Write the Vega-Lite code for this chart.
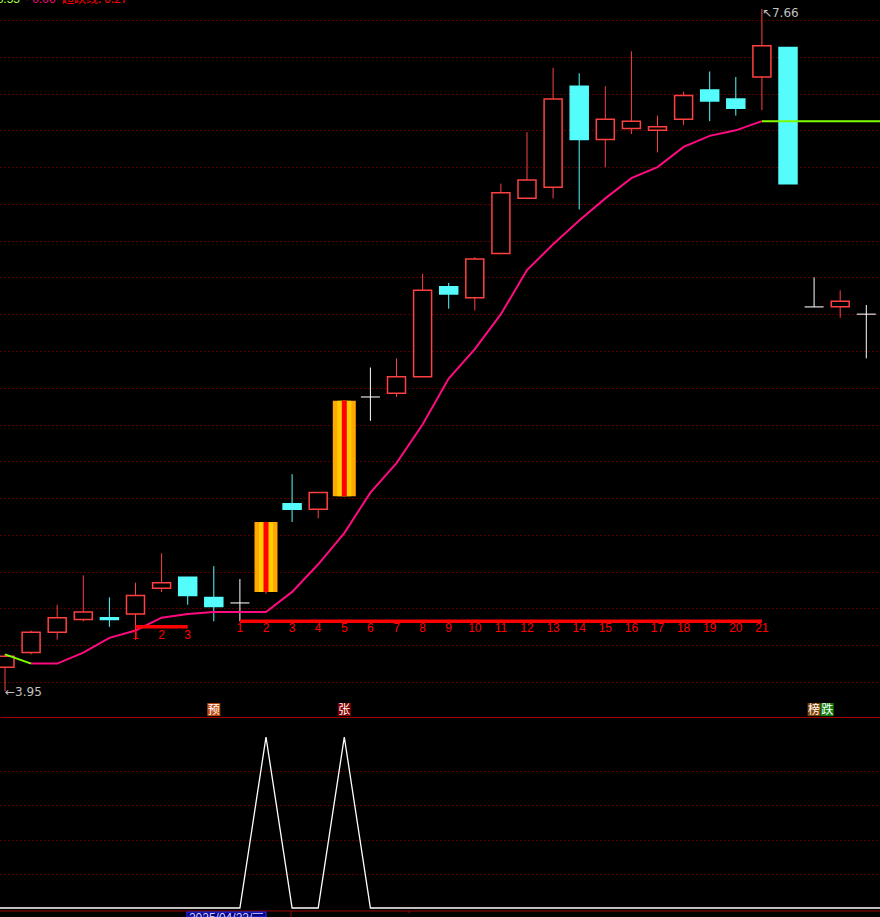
{
"$schema":"https://vega.github.io/schema/vega-lite/v6.json",
"background":"#000000",
"padding":0,
"bounds":"flush",
"spacing":0,
"config":{"view":{"stroke":null},"text":{"font":"Liberation Sans"},
 "axisY":{"grid":true,"gridColor":"#B00000","gridOpacity":1,"gridDash":[1,3],"gridWidth":1,"domain":false,"ticks":false,"labels":false,"title":null}},
"datasets":{
"candles":[
{"i":0,"o":4.08,"c":4.14,"h":4.15,"l":3.95,"d":"up"},
{"i":1,"o":4.16,"c":4.27,"h":4.28,"l":4.15,"d":"up"},
{"i":2,"o":4.27,"c":4.35,"h":4.42,"l":4.23,"d":"up"},
{"i":3,"o":4.34,"c":4.38,"h":4.58,"l":4.33,"d":"up"},
{"i":4,"o":4.35,"c":4.34,"h":4.46,"l":4.30,"d":"down"},
{"i":5,"o":4.37,"c":4.47,"h":4.54,"l":4.23,"d":"up"},
{"i":6,"o":4.51,"c":4.54,"h":4.70,"l":4.49,"d":"up"},
{"i":7,"o":4.57,"c":4.47,"h":4.57,"l":4.42,"d":"down"},
{"i":8,"o":4.46,"c":4.41,"h":4.63,"l":4.33,"d":"down"},
{"i":9,"o":4.43,"c":4.43,"h":4.56,"l":4.33,"d":"flat"},
{"i":10,"o":4.49,"c":4.87,"h":4.87,"l":4.48,"d":"limit"},
{"i":11,"o":4.97,"c":4.94,"h":5.13,"l":4.87,"d":"down"},
{"i":12,"o":4.94,"c":5.03,"h":5.03,"l":4.89,"d":"up"},
{"i":13,"o":5.01,"c":5.53,"h":5.53,"l":5.01,"d":"limit"},
{"i":14,"o":5.55,"c":5.55,"h":5.71,"l":5.42,"d":"flat"},
{"i":15,"o":5.57,"c":5.66,"h":5.76,"l":5.55,"d":"up"},
{"i":16,"o":5.66,"c":6.13,"h":6.22,"l":5.66,"d":"up"},
{"i":17,"o":6.15,"c":6.11,"h":6.17,"l":6.03,"d":"down"},
{"i":18,"o":6.09,"c":6.30,"h":6.31,"l":6.02,"d":"up"},
{"i":19,"o":6.33,"c":6.66,"h":6.71,"l":6.33,"d":"up"},
{"i":20,"o":6.63,"c":6.73,"h":6.99,"l":6.63,"d":"up"},
{"i":21,"o":6.69,"c":7.17,"h":7.34,"l":6.63,"d":"up"},
{"i":22,"o":7.24,"c":6.95,"h":7.31,"l":6.57,"d":"down"},
{"i":23,"o":6.95,"c":7.06,"h":7.24,"l":6.80,"d":"up"},
{"i":24,"o":7.01,"c":7.05,"h":7.43,"l":6.98,"d":"up"},
{"i":25,"o":7.00,"c":7.02,"h":7.08,"l":6.88,"d":"up"},
{"i":26,"o":7.06,"c":7.19,"h":7.21,"l":7.03,"d":"up"},
{"i":27,"o":7.22,"c":7.16,"h":7.32,"l":7.05,"d":"down"},
{"i":28,"o":7.17,"c":7.12,"h":7.29,"l":7.08,"d":"down"},
{"i":29,"o":7.29,"c":7.46,"h":7.66,"l":7.11,"d":"up"},
{"i":30,"o":7.45,"c":6.71,"h":7.45,"l":6.71,"d":"down"},
{"i":31,"o":6.04,"c":6.04,"h":6.20,"l":6.04,"d":"flat"},
{"i":32,"o":6.04,"c":6.07,"h":6.13,"l":5.98,"d":"up"},
{"i":33,"o":6.00,"c":6.00,"h":6.05,"l":5.76,"d":"flat"}
],
"ma":[
{"i":0,"v":4.15,"s":"g","g":"a"},{"i":1,"v":4.10,"s":"g","g":"a"},
{"i":1,"v":4.10,"s":"p","g":"p"},{"i":2,"v":4.10,"s":"p","g":"p"},{"i":3,"v":4.16,"s":"p","g":"p"},{"i":4,"v":4.24,"s":"p","g":"p"},{"i":5,"v":4.28,"s":"p","g":"p"},{"i":6,"v":4.35,"s":"p","g":"p"},{"i":7,"v":4.37,"s":"p","g":"p"},{"i":8,"v":4.38,"s":"p","g":"p"},{"i":9,"v":4.38,"s":"p","g":"p"},{"i":10,"v":4.38,"s":"p","g":"p"},{"i":11,"v":4.49,"s":"p","g":"p"},{"i":12,"v":4.64,"s":"p","g":"p"},{"i":13,"v":4.81,"s":"p","g":"p"},{"i":14,"v":5.03,"s":"p","g":"p"},{"i":15,"v":5.19,"s":"p","g":"p"},{"i":16,"v":5.40,"s":"p","g":"p"},{"i":17,"v":5.65,"s":"p","g":"p"},{"i":18,"v":5.81,"s":"p","g":"p"},{"i":19,"v":6.00,"s":"p","g":"p"},{"i":20,"v":6.24,"s":"p","g":"p"},{"i":21,"v":6.38,"s":"p","g":"p"},{"i":22,"v":6.51,"s":"p","g":"p"},{"i":23,"v":6.63,"s":"p","g":"p"},{"i":24,"v":6.74,"s":"p","g":"p"},{"i":25,"v":6.80,"s":"p","g":"p"},{"i":26,"v":6.91,"s":"p","g":"p"},{"i":27,"v":6.97,"s":"p","g":"p"},{"i":28,"v":7.00,"s":"p","g":"p"},{"i":29,"v":7.05,"s":"p","g":"p"},
{"i":29,"v":7.05,"s":"g","g":"b"},{"i":30,"v":7.05,"s":"g","g":"b"},{"i":31,"v":7.05,"s":"g","g":"b"},{"i":32,"v":7.05,"s":"g","g":"b"},{"i":33,"v":7.05,"s":"g","g":"b"},{"i":34,"v":7.05,"s":"g","g":"b"}
],
"bands":[{"i":5,"i2":7,"v":4.30},{"i":9,"i2":29,"v":4.33}],
"nums":[
{"i":5,"v":4.258,"t":"1"},{"i":6,"v":4.258,"t":"2"},{"i":7,"v":4.258,"t":"3"},
{"i":9,"v":4.291,"t":"1"},{"i":10,"v":4.291,"t":"2"},{"i":11,"v":4.291,"t":"3"},{"i":12,"v":4.291,"t":"4"},{"i":13,"v":4.291,"t":"5"},{"i":14,"v":4.291,"t":"6"},{"i":15,"v":4.291,"t":"7"},{"i":16,"v":4.291,"t":"8"},{"i":17,"v":4.291,"t":"9"},{"i":18,"v":4.291,"t":"10"},{"i":19,"v":4.291,"t":"11"},{"i":20,"v":4.291,"t":"12"},{"i":21,"v":4.291,"t":"13"},{"i":22,"v":4.291,"t":"14"},{"i":23,"v":4.291,"t":"15"},{"i":24,"v":4.291,"t":"16"},{"i":25,"v":4.291,"t":"17"},{"i":26,"v":4.291,"t":"18"},{"i":27,"v":4.291,"t":"19"},{"i":28,"v":4.291,"t":"20"},{"i":29,"v":4.291,"t":"21"}
],
"notes":[{"i":0,"v":3.947,"t":"←3.95"},{"i":29,"v":7.638,"t":"↖7.66"}],
"tags":[{"i":8,"v":3.850,"t":"预"},{"i":13,"v":3.850,"t":"张"},{"i":31,"v":3.850,"t":"榜"},{"i":31.5,"v":3.850,"t":"跌"}],
"head":[{"i":0.575,"v":7.692,"t":"3.55","k":"g"},{"i":0.766,"v":7.692,"t":"· 0.00","k":"p"},{"i":2.184,"v":7.692,"t":"超跌线: 6.27","k":"r"}],
"sig":[{"i":-1,"v":0},{"i":0,"v":0},{"i":1,"v":0},{"i":2,"v":0},{"i":3,"v":0},{"i":4,"v":0},{"i":5,"v":0},{"i":6,"v":0},{"i":7,"v":0},{"i":8,"v":0},{"i":9,"v":0},{"i":10,"v":1},{"i":11,"v":0},{"i":12,"v":0},{"i":13,"v":1},{"i":14,"v":0},{"i":15,"v":0},{"i":16,"v":0},{"i":17,"v":0},{"i":18,"v":0},{"i":19,"v":0},{"i":20,"v":0},{"i":21,"v":0},{"i":22,"v":0},{"i":23,"v":0},{"i":24,"v":0},{"i":25,"v":0},{"i":26,"v":0},{"i":27,"v":0},{"i":28,"v":0},{"i":29,"v":0},{"i":30,"v":0},{"i":31,"v":0},{"i":32,"v":0},{"i":33,"v":0},{"i":34,"v":0}],
"base":[{"i":-0.19157,"i2":33.5249,"v":-0.01754}],
"ticks":[{"i":10.958,"v":-0.01754,"v2":-0.0526},{"i":15.479,"v":-0.01754,"v2":-0.03}],
"date":[{"i":6.97,"i2":10.0,"v":-0.0234,"v2":-0.0526,"t":"2025/04/22/三"}]
},
"vconcat":[
{
"width":880,"height":717,
"encoding":{"x":{"field":"i","type":"quantitative","scale":{"domain":[-0.19157,33.5249],"nice":false,"zero":false,"padding":0},"axis":{"orient":"bottom","domain":true,"domainColor":"#A00000","domainWidth":1,"ticks":false,"labels":false,"grid":false,"title":null}}},
"layer":[
{"data":{"name":"candles"},"mark":{"type":"rule","strokeWidth":1,"clip":true},
 "encoding":{"y":{"field":"h","type":"quantitative","scale":{"domain":[3.80967,7.70876],"nice":false,"zero":false,"padding":0},"axis":{"values":[4.0,4.2,4.4,4.6,4.8,5.0,5.2,5.4,5.6,5.8,6.0,6.2,6.4,6.6,6.8,7.0,7.2,7.4,7.6]}},"y2":{"field":"l"},
 "stroke":{"field":"d","type":"nominal","scale":{"domain":["up","down","flat","limit"],"range":["#FF4040","#54FCFC","#FFFFFF","#FF4040"]},"legend":null}}},
{"data":{"name":"candles"},"transform":[{"filter":"datum.d=='up'||datum.d=='down'"}],"mark":{"type":"bar","size":18,"strokeWidth":1.5,"clip":true},
 "encoding":{"y":{"field":"o","type":"quantitative","scale":{"domain":[3.80967,7.70876],"nice":false,"zero":false,"padding":0},"axis":{"values":[4.0,4.2,4.4,4.6,4.8,5.0,5.2,5.4,5.6,5.8,6.0,6.2,6.4,6.6,6.8,7.0,7.2,7.4,7.6]}},"y2":{"field":"c"},
 "fill":{"field":"d","type":"nominal","scale":{"domain":["up","down"],"range":["#000000","#54FCFC"]},"legend":null},
 "stroke":{"field":"d","type":"nominal","scale":{"domain":["up","down","flat","limit"],"range":["#FF4040","#54FCFC","#FFFFFF","#FF4040"]},"legend":null}}},
{"data":{"name":"candles"},"transform":[{"filter":"datum.d=='flat'"}],"mark":{"type":"tick","orient":"horizontal","size":19,"thickness":1.5,"color":"#FFFFFF","clip":true},
 "encoding":{"y":{"field":"o","type":"quantitative","scale":{"domain":[3.80967,7.70876],"nice":false,"zero":false,"padding":0},"axis":{"values":[4.0,4.2,4.4,4.6,4.8,5.0,5.2,5.4,5.6,5.8,6.0,6.2,6.4,6.6,6.8,7.0,7.2,7.4,7.6]}}}},
{"data":{"name":"candles"},"transform":[{"filter":"datum.d=='limit'"}],"mark":{"type":"bar","size":23,"color":"#FFA800","clip":true},
 "encoding":{"y":{"field":"o","type":"quantitative","scale":{"domain":[3.80967,7.70876],"nice":false,"zero":false,"padding":0},"axis":{"values":[4.0,4.2,4.4,4.6,4.8,5.0,5.2,5.4,5.6,5.8,6.0,6.2,6.4,6.6,6.8,7.0,7.2,7.4,7.6]}},"y2":{"field":"c"}}},
{"data":{"name":"candles"},"transform":[{"filter":"datum.d=='limit'"}],"mark":{"type":"bar","size":14,"color":"#FFCC00","clip":true},
 "encoding":{"y":{"field":"o","type":"quantitative","scale":{"domain":[3.80967,7.70876],"nice":false,"zero":false,"padding":0},"axis":{"values":[4.0,4.2,4.4,4.6,4.8,5.0,5.2,5.4,5.6,5.8,6.0,6.2,6.4,6.6,6.8,7.0,7.2,7.4,7.6]}},"y2":{"field":"c"}}},
{"data":{"name":"candles"},"transform":[{"filter":"datum.d=='limit'"}],"mark":{"type":"bar","size":5,"color":"#FF0000","clip":true},
 "encoding":{"y":{"field":"o","type":"quantitative","scale":{"domain":[3.80967,7.70876],"nice":false,"zero":false,"padding":0},"axis":{"values":[4.0,4.2,4.4,4.6,4.8,5.0,5.2,5.4,5.6,5.8,6.0,6.2,6.4,6.6,6.8,7.0,7.2,7.4,7.6]}},"y2":{"field":"c"}}},
{"data":{"name":"ma"},"transform":[{"filter":"datum.s=='p'"}],"mark":{"type":"line","color":"#FF0A80","strokeWidth":2,"clip":true},
 "encoding":{"y":{"field":"v","type":"quantitative","scale":{"domain":[3.80967,7.70876],"nice":false,"zero":false,"padding":0},"axis":{"values":[4.0,4.2,4.4,4.6,4.8,5.0,5.2,5.4,5.6,5.8,6.0,6.2,6.4,6.6,6.8,7.0,7.2,7.4,7.6]}}}},
{"data":{"name":"ma"},"transform":[{"filter":"datum.s=='g'"}],"mark":{"type":"line","color":"#80FF00","strokeWidth":2,"clip":true},
 "encoding":{"y":{"field":"v","type":"quantitative","scale":{"domain":[3.80967,7.70876],"nice":false,"zero":false,"padding":0},"axis":{"values":[4.0,4.2,4.4,4.6,4.8,5.0,5.2,5.4,5.6,5.8,6.0,6.2,6.4,6.6,6.8,7.0,7.2,7.4,7.6]}},"detail":{"field":"g","type":"nominal"}}},
{"data":{"name":"bands"},"mark":{"type":"rule","color":"#FF0000","strokeWidth":3.5,"clip":true},
 "encoding":{"x2":{"field":"i2"},"y":{"field":"v","type":"quantitative","scale":{"domain":[3.80967,7.70876],"nice":false,"zero":false,"padding":0},"axis":{"values":[4.0,4.2,4.4,4.6,4.8,5.0,5.2,5.4,5.6,5.8,6.0,6.2,6.4,6.6,6.8,7.0,7.2,7.4,7.6]}}}},
{"data":{"name":"nums"},"mark":{"type":"text","color":"#FF0000","fontSize":12,"baseline":"middle","align":"center","clip":true},
 "encoding":{"y":{"field":"v","type":"quantitative","scale":{"domain":[3.80967,7.70876],"nice":false,"zero":false,"padding":0},"axis":{"values":[4.0,4.2,4.4,4.6,4.8,5.0,5.2,5.4,5.6,5.8,6.0,6.2,6.4,6.6,6.8,7.0,7.2,7.4,7.6]}},"text":{"field":"t"}}},
{"data":{"name":"notes"},"mark":{"type":"text","color":"#C0C0C0","fontSize":12,"baseline":"middle","align":"left","font":"DejaVu Sans","clip":true},
 "encoding":{"y":{"field":"v","type":"quantitative","scale":{"domain":[3.80967,7.70876],"nice":false,"zero":false,"padding":0},"axis":{"values":[4.0,4.2,4.4,4.6,4.8,5.0,5.2,5.4,5.6,5.8,6.0,6.2,6.4,6.6,6.8,7.0,7.2,7.4,7.6]}},"text":{"field":"t"}}},
{"data":{"name":"tags"},"mark":{"type":"point","shape":"square","filled":true,"size":169,"opacity":1,"clip":true},
 "encoding":{"y":{"field":"v","type":"quantitative","scale":{"domain":[3.80967,7.70876],"nice":false,"zero":false,"padding":0},"axis":{"values":[4.0,4.2,4.4,4.6,4.8,5.0,5.2,5.4,5.6,5.8,6.0,6.2,6.4,6.6,6.8,7.0,7.2,7.4,7.6]}},
 "color":{"field":"t","type":"nominal","scale":{"domain":["预","张","榜","跌"],"range":["#C04A10","#800000","#804000","#108010"]},"legend":null}}},
{"data":{"name":"tags"},"mark":{"type":"text","color":"#FFFFFF","fontSize":12,"baseline":"middle","align":"center","font":"Noto Sans CJK SC","clip":true},
 "encoding":{"y":{"field":"v","type":"quantitative","scale":{"domain":[3.80967,7.70876],"nice":false,"zero":false,"padding":0},"axis":{"values":[4.0,4.2,4.4,4.6,4.8,5.0,5.2,5.4,5.6,5.8,6.0,6.2,6.4,6.6,6.8,7.0,7.2,7.4,7.6]}},"text":{"field":"t"}}},
{"data":{"name":"head"},"transform":[{"filter":"datum.k=='g'"}],"mark":{"type":"text","color":"#A0FF40","fontSize":12,"baseline":"alphabetic","align":"right","clip":true},
 "encoding":{"y":{"field":"v","type":"quantitative","scale":{"domain":[3.80967,7.70876],"nice":false,"zero":false,"padding":0},"axis":{"values":[4.0,4.2,4.4,4.6,4.8,5.0,5.2,5.4,5.6,5.8,6.0,6.2,6.4,6.6,6.8,7.0,7.2,7.4,7.6]}},"text":{"field":"t"}}},
{"data":{"name":"head"},"transform":[{"filter":"datum.k=='p'"}],"mark":{"type":"text","color":"#FF0A80","fontSize":12,"baseline":"alphabetic","align":"left","clip":true},
 "encoding":{"y":{"field":"v","type":"quantitative","scale":{"domain":[3.80967,7.70876],"nice":false,"zero":false,"padding":0},"axis":{"values":[4.0,4.2,4.4,4.6,4.8,5.0,5.2,5.4,5.6,5.8,6.0,6.2,6.4,6.6,6.8,7.0,7.2,7.4,7.6]}},"text":{"field":"t"}}},
{"data":{"name":"head"},"transform":[{"filter":"datum.k=='r'"}],"mark":{"type":"text","color":"#FF0000","fontSize":12,"baseline":"alphabetic","align":"left","font":"Noto Sans CJK SC","clip":true},
 "encoding":{"y":{"field":"v","type":"quantitative","scale":{"domain":[3.80967,7.70876],"nice":false,"zero":false,"padding":0},"axis":{"values":[4.0,4.2,4.4,4.6,4.8,5.0,5.2,5.4,5.6,5.8,6.0,6.2,6.4,6.6,6.8,7.0,7.2,7.4,7.6]}},"text":{"field":"t"}}}
]
},
{
"width":880,"height":200,
"encoding":{"x":{"field":"i","type":"quantitative","scale":{"domain":[-0.19157,33.5249],"nice":false,"zero":false,"padding":0},"axis":null}},
"layer":[
{"data":{"name":"sig"},"mark":{"type":"line","color":"#FFFFFF","strokeWidth":1.3,"clip":true},
 "encoding":{"y":{"field":"v","type":"quantitative","scale":{"domain":[-0.05263,1.11696],"nice":false,"zero":false,"padding":0},"axis":{"values":[0.2,0.4,0.6,0.8]}}}},
{"data":{"name":"base"},"mark":{"type":"rule","color":"#A00000","strokeWidth":1,"clip":true},
 "encoding":{"x2":{"field":"i2"},"y":{"field":"v","type":"quantitative","scale":{"domain":[-0.05263,1.11696],"nice":false,"zero":false,"padding":0},"axis":{"values":[0.2,0.4,0.6,0.8]}}}},
{"data":{"name":"ticks"},"mark":{"type":"rule","color":"#A00000","strokeWidth":1,"clip":true},
 "encoding":{"y":{"field":"v","type":"quantitative","scale":{"domain":[-0.05263,1.11696],"nice":false,"zero":false,"padding":0},"axis":{"values":[0.2,0.4,0.6,0.8]}},"y2":{"field":"v2"}}},
{"data":{"name":"date"},"mark":{"type":"rect","fill":"#000080","stroke":"#3030FF","strokeWidth":1,"clip":true},
 "encoding":{"x2":{"field":"i2"},"y":{"field":"v","type":"quantitative","scale":{"domain":[-0.05263,1.11696],"nice":false,"zero":false,"padding":0},"axis":{"values":[0.2,0.4,0.6,0.8]}},"y2":{"field":"v2"}}},
{"data":{"name":"date"},"mark":{"type":"text","color":"#D0D0FF","fontSize":12,"baseline":"top","align":"left","dx":2,"dy":1,"clip":true},
 "encoding":{"y":{"field":"v","type":"quantitative","scale":{"domain":[-0.05263,1.11696],"nice":false,"zero":false,"padding":0},"axis":{"values":[0.2,0.4,0.6,0.8]}},"text":{"field":"t"}}}
]
}
]
}
